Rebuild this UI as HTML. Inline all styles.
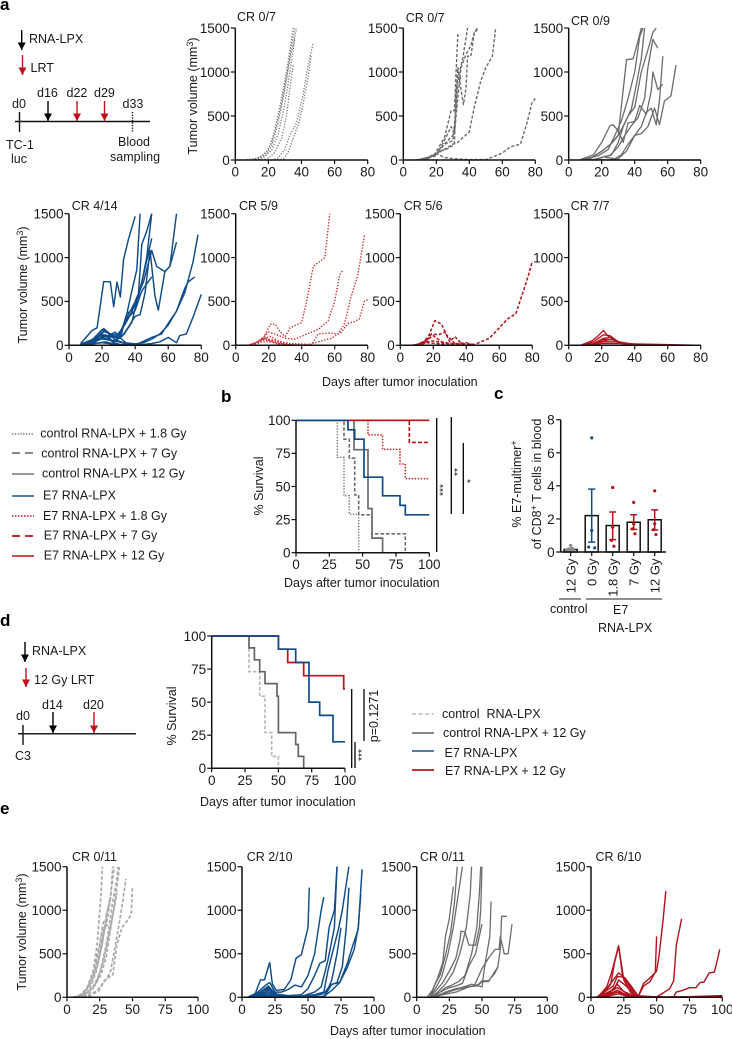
<!DOCTYPE html>
<html lang="en">
<head>
<meta charset="utf-8">
<title>Tumor response panels</title>
<style>
html,body{margin:0;padding:0;background:#fff;}
svg{display:block;}
text{font-family:"Liberation Sans",sans-serif;font-size:12.5px;fill:#1a1a1a;}
.pl{font-weight:bold;font-size:17px;fill:#000;}
</style>
</head>
<body>
<svg id="fig" xmlns="http://www.w3.org/2000/svg" width="732" height="1039" viewBox="0 0 732 1039">
<defs>
<marker id="ab" markerWidth="8" markerHeight="8" refX="7.5" refY="4" orient="auto" markerUnits="userSpaceOnUse"><path d="M0,0L7.5,4L0,8Z" fill="#000"/></marker>
<marker id="ar" markerWidth="8" markerHeight="8" refX="7.5" refY="4" orient="auto" markerUnits="userSpaceOnUse"><path d="M0,0L7.5,4L0,8Z" fill="#c0101a"/></marker>
</defs>

<text class="pl" x="0" y="10">a</text>
<text class="pl" x="221" y="402">b</text>
<text class="pl" x="494" y="399">c</text>
<text class="pl" x="0" y="626">d</text>
<text class="pl" x="0" y="814">e</text>

<g>
<line x1="21.7" y1="30" x2="21.7" y2="50" stroke="#000" stroke-width="1.4" marker-end="url(#ab)"/>
<text x="29" y="43">RNA-LPX</text>
<line x1="22.5" y1="55" x2="22.5" y2="75" stroke="#c0101a" stroke-width="1.4" marker-end="url(#ar)"/>
<text x="30.5" y="72">LRT</text>
<line x1="15" y1="121.5" x2="150" y2="121.5" stroke="#111" stroke-width="1.4"/>
<line x1="19.5" y1="112" x2="19.5" y2="132" stroke="#111" stroke-width="1.4"/>
<text x="12" y="108">d0</text>
<text x="37" y="97">d16</text>
<line x1="48" y1="101" x2="48" y2="121" stroke="#000" stroke-width="1.4" marker-end="url(#ab)"/>
<text x="66.5" y="97">d22</text>
<line x1="77" y1="101" x2="77" y2="121" stroke="#c0101a" stroke-width="1.4" marker-end="url(#ar)"/>
<text x="94" y="97">d29</text>
<line x1="104.5" y1="101" x2="104.5" y2="121" stroke="#c0101a" stroke-width="1.4" marker-end="url(#ar)"/>
<text x="122.5" y="108">d33</text>
<line x1="132.5" y1="112" x2="132.5" y2="132" stroke="#111" stroke-width="1.4" stroke-dasharray="1.3 1.3"/>
<text x="6" y="149">TC-1</text>
<text x="11" y="163">luc</text>
<text x="118" y="146">Blood</text>
<text x="110" y="161">sampling</text>
</g>

<g>
<line x1="25" y1="642" x2="25" y2="662" stroke="#000" stroke-width="1.4" marker-end="url(#ab)"/>
<text x="32" y="655">RNA-LPX</text>
<line x1="26" y1="668" x2="26" y2="687" stroke="#c0101a" stroke-width="1.4" marker-end="url(#ar)"/>
<text x="34" y="684">12 Gy LRT</text>
<line x1="18" y1="733.7" x2="136" y2="733.7" stroke="#222" stroke-width="1.5"/>
<line x1="23" y1="725" x2="23" y2="745" stroke="#111" stroke-width="1.4"/>
<text x="16" y="720">d0</text>
<text x="42" y="709">d14</text>
<line x1="53" y1="712" x2="53" y2="733" stroke="#000" stroke-width="1.4" marker-end="url(#ab)"/>
<text x="83" y="709">d20</text>
<line x1="94" y1="712" x2="94" y2="733" stroke="#c0101a" stroke-width="1.4" marker-end="url(#ar)"/>
<text x="15" y="760">C3</text>
</g>

<g>
<text x="237" y="21">CR 0/7</text>
<text x="405.7" y="22">CR 0/7</text>
<text x="571" y="25">CR 0/9</text>
<text x="71.7" y="210">CR 4/14</text>
<text x="239" y="210">CR 5/9</text>
<text x="403.7" y="210">CR 5/6</text>
<text x="570.7" y="210">CR 7/7</text>
<text x="72" y="861">CR 0/11</text>
<text x="246.7" y="861">CR 2/10</text>
<text x="420" y="861">CR 0/11</text>
<text x="595.5" y="861">CR 6/10</text>
</g>

<text transform="translate(197,96) rotate(-90)" text-anchor="middle">Tumor volume (mm<tspan dy="-4" style="font-size:9px">3</tspan><tspan dy="4">)</tspan></text>
<text transform="translate(27,285) rotate(-90)" text-anchor="middle">Tumor volume (mm<tspan dy="-4" style="font-size:9px">3</tspan><tspan dy="4">)</tspan></text>
<text x="322" y="386">Days after tumor inoculation</text>
<text transform="translate(26,932) rotate(-90)" text-anchor="middle">Tumor volume (mm<tspan dy="-4" style="font-size:9px">3</tspan><tspan dy="4">)</tspan></text>
<text x="330" y="1035">Days after tumor inoculation</text>

<g>
<line x1="12" y1="434" x2="34" y2="434" stroke="#777" stroke-width="1.5" stroke-dasharray="1.3 1.5"/>
<text x="40.3" y="437.5">control RNA-LPX + 1.8 Gy</text>
<line x1="12" y1="453" x2="34" y2="453" stroke="#777" stroke-width="1.8" stroke-dasharray="8 5"/>
<text x="41.3" y="457.5">control RNA-LPX + 7 Gy</text>
<line x1="12" y1="474" x2="34" y2="474" stroke="#777" stroke-width="1.5"/>
<text x="42" y="477.5">control RNA-LPX + 12 Gy</text>
<line x1="12" y1="496" x2="34" y2="496" stroke="#1c4f87" stroke-width="1.5"/>
<text x="43" y="499.5">E7 RNA-LPX</text>
<line x1="12" y1="516" x2="34" y2="516" stroke="#d8141e" stroke-width="1.5" stroke-dasharray="1.5 1.5"/>
<text x="43" y="520">E7 RNA-LPX + 1.8 Gy</text>
<line x1="12" y1="536" x2="34" y2="536" stroke="#b90f18" stroke-width="1.8" stroke-dasharray="8 5"/>
<text x="43.7" y="539.5">E7 RNA-LPX + 7 Gy</text>
<line x1="12" y1="556" x2="34" y2="556" stroke="#c0101a" stroke-width="1.5"/>
<text x="43.7" y="559.5">E7 RNA-LPX + 12 Gy</text>
</g>

<g>
<line x1="412" y1="714" x2="434" y2="714" stroke="#bdbdbd" stroke-width="1.5" stroke-dasharray="4 2.5"/>
<text x="442" y="718" xml:space="preserve">control  RNA-LPX</text>
<line x1="412" y1="733" x2="434" y2="733" stroke="#777" stroke-width="1.8"/>
<text x="443" y="737">control RNA-LPX + 12 Gy</text>
<line x1="412" y1="751" x2="434" y2="751" stroke="#1c4f87" stroke-width="1.5"/>
<text x="444.5" y="757">E7 RNA-LPX</text>
<line x1="412" y1="770" x2="434" y2="770" stroke="#c0101a" stroke-width="1.8"/>
<text x="445" y="775">E7 RNA-LPX + 12 Gy</text>
</g>

<g>
<text transform="translate(263,486) rotate(-90)" text-anchor="middle">% Survival</text>
<text x="284" y="587">Days after tumor inoculation</text>
<line x1="436.7" y1="418" x2="436.7" y2="552" stroke="#000" stroke-width="1.3"/>
<line x1="451.3" y1="417" x2="451.3" y2="514" stroke="#000" stroke-width="1.3"/>
<line x1="463.3" y1="443" x2="463.3" y2="514" stroke="#000" stroke-width="1.3"/>
<text transform="translate(446.5,490) rotate(-90)" text-anchor="middle" style="font-size:10px">***</text>
<text transform="translate(461,472) rotate(-90)" text-anchor="middle" style="font-size:10px">**</text>
<text transform="translate(474,481) rotate(-90)" text-anchor="middle" style="font-size:10px">*</text>
</g>

<g>
<text transform="translate(176,716) rotate(-90)" text-anchor="middle">% Survival</text>
<text x="200" y="806">Days after tumor inoculation</text>
<line x1="351.7" y1="689" x2="351.7" y2="768" stroke="#000" stroke-width="1.3"/>
<line x1="355" y1="742" x2="355" y2="768" stroke="#000" stroke-width="1.3"/>
<line x1="364" y1="689" x2="364" y2="741" stroke="#000" stroke-width="1.3"/>
<text transform="translate(365,755) rotate(-90)" text-anchor="middle" style="font-size:10px">***</text>
<text transform="translate(378,716) rotate(-90)" text-anchor="middle">p=0.1271</text>
</g>

<g>
<text transform="translate(521,484) rotate(-90)" text-anchor="middle">% E7-multimer<tspan dy="-4" style="font-size:9px">+</tspan></text>
<text transform="translate(541,484) rotate(-90)" text-anchor="middle">of CD8<tspan dy="-4" style="font-size:9px">+</tspan><tspan dy="4"> T cells in blood</tspan></text>
<line x1="559" y1="599" x2="581" y2="599" stroke="#222" stroke-width="1"/>
<line x1="586" y1="599" x2="662" y2="599" stroke="#222" stroke-width="1"/>
<text x="550" y="613">control</text>
<text x="613" y="614">E7</text>
<text x="598" y="632">RNA-LPX</text>
</g>

<g id="plots"></g>
</svg>

<script>
// ---------- tick labels ----------
const volumeTicks = [0, 500, 1000, 1500];
const dayTicks80 = [0, 20, 40, 60, 80];
const dayTicks100 = [0, 25, 50, 75, 100];
const survivalTicks = [0, 25, 50, 75, 100];
const barTicks = [0, 2, 4, 6, 8];

// ---------- tumor growth: each curve is [day, volume, day, volume, ...] ----------
const a1Curves = [
[7,5,12,15,18,60,22,200,26,520,30,900,33,1250,35,1500],
[10,5,15,30,20,120,24,330,28,650,31,950,34,1300,36,1500],
[14,5,18,40,22,160,26,430,30,800,33,1150,36,1400,37,1500],
[12,5,17,30,22,110,26,300,30,640,33,1000,36,1380],
[16,0,20,20,24,90,28,250,31,500,33,820,35,1080],
[22,0,26,25,30,120,33,280,37,420,41,750,44,1080,47,1320],
[24,0,29,10,32,90,35,250,38,400,41,640,44,950,46,1200]];
const a2Curves = [
[7,0,14,15,19,60,25,260,29,560,31,560,32,1000,33,1420,35,1420],
[10,5,16,40,20,80,26,200,31,300,33,1050,35,800,36.5,630,38,820,39,1180,41,1180,43,1450,45,1480],
[12,10,18,40,22,100,27,130,31,180,32,800,34,1000,36,1150,39,1500],
[14,5,20,70,25,120,30,180,33,200,40,320,43,600,47,900,50,1050,54,1180,56,1500],
[15,20,20,50,26,260,29,380,31,300,33,700,35,1050,38,1200,41,1300,43,1450,45,1500],
[8,0,15,30,20,70,25,30,30,15,40,5,50,5,55,40,60,80,65,150,71,180,75,420,78,650,80,700],
[16,40,20,70,25,180,30,220,32,600,33,900,36,950]];
const a3Curves = [
[7,5,15,60,20,200,25,390,27,400,30,330,33,200,36,420,40,440,43,620,47,520,50,780,51,1000,54,800,57,860],
[8,5,14,30,20,100,25,170,30,280,35,1140,39,1150,42,1350,44,1500],
[10,10,18,50,24,120,28,280,32,450,36,700,40,1000,43,1400,45,1500],
[12,5,20,100,26,190,30,280,34,420,38,580,41,860,44,1150,46,1500],
[14,0,20,30,25,50,30,150,34,280,38,390,42,480,46,700,48,1050,51,1370,54,1270],
[22,30,28,15,32,60,36,180,40,280,44,380,47,540,50,590,53,400,55,680,57,1180],
[24,0,30,15,35,100,40,280,44,300,48,380,52,590,55,400,58,670,62,730,65,1080],
[20,30,26,60,30,200,33,380,36,500,40,600,44,1000,48,1250,51,1450,53,1500],
[8,0,18,10,24,0,80,0]];
const a4Curves = [
[7,20,14,170,17,200,21,725,25,725,27,440,29,720,31,550,33,980,36,1210,40,1470],
[7,10,14,60,20,180,24,140,28,100,32,180,35,360,38,620,41,860,43,1500],
[7,15,15,70,21,190,26,110,31,80,35,360,38,400,42,590,44,1150,47,1300,50,1500],
[7,5,15,50,21,160,26,120,30,130,34,240,38,380,42,560,45,800,48,1050,50,1220],
[8,10,16,40,22,120,27,40,32,100,36,210,40,330,43,350,46,600,49,1080,52,560,54,400,56,620,58,840,61,900,65,1500],
[8,5,15,40,21,100,28,90,33,120,38,260,41,500,44,720,47,1000,50,1500],
[7,5,15,40,21,80,28,50,35,300,40,400,44,620,47,700,50,780],
[7,5,20,120,30,90,36,350,40,500,45,720,50,1080,53,900,58,840,61,900,65,1175],
[7,5,18,80,24,60,30,40,35,15,40,10,45,30,50,70,55,130,60,230,65,390,70,600,75,950,78,1260],
[7,0,20,30,28,10,35,5,42,20,50,90,56,130,60,250,65,390,70,650,72,720,76,780],
[8,0,22,40,30,5,40,0,50,20,55,40,60,90,65,30,67,110,71,130,75,320,80,580],
[7,0,15,50,22,170,28,60,33,30,38,20,42,10,46,0,80,0],
[7,5,15,30,21,120,27,30,32,5,40,0],
[7,0,14,30,21,90,28,150,30,100,35,20,40,5,80,0]];
const a5Curves = [
[7,0,12,30,17,90,21,240,24,240,27,150,30,100,33,200,40,260,43,500,47,900,54,1000,57,1500],
[8,0,14,40,20,150,25,120,30,80,36,70,42,120,50,180,56,280,60,500,63,800,65,860],
[9,0,15,60,21,100,26,50,32,20,40,15,46,10,50,130,56,140,62,130,66,250,70,560,74,800,78,1250],
[10,0,16,70,21,70,28,30,35,10,44,5,50,40,58,80,64,150,68,250,72,270,75,300,78,500,80,520],
[10,0,17,60,22,50,30,10,40,5,50,0,80,0],
[8,0,16,40,22,40,30,0,80,0],
[12,0,18,80,24,20,36,0,80,0]];
const a6Curves = [
[7,0,13,20,17,100,21,280,25,240,28,120,33,20,40,5,45,0,80,0],
[8,0,15,30,19,130,23,120,27,150,30,40,33,100,37,20,45,10,54,80,60,200,65,300,70,360,75,640,78,820,80,960],
[9,0,16,60,20,110,25,40,30,20,36,20,40,30,45,0],
[10,0,16,40,20,50,26,30,32,10,40,0],
[10,0,16,30,22,20,30,5,40,0,80,0],
[7,0,30,0,80,0]];
const a7Curves = [
[7,0,14,50,18,110,21,170,24,100,28,60,32,20,40,10,50,5,80,0],
[8,0,15,40,21,120,25,110,30,40,40,10,48,10],
[7,0,15,20,21,80,26,90,30,40,38,15,45,5],
[8,0,16,25,21,70,27,60,33,20,40,5],
[9,0,16,20,21,50,26,70,32,25,42,10],
[9,0,21,40,28,40,35,10,45,0],
[7,0,21,20,30,20,80,0]];
const e1Curves = [
[5,0,10,30,15,100,20,300,23,600,25,1000,26,1200,27,1500],
[8,0,13,40,18,160,23,350,27,620,30,950,33,1100,35,1500],
[8,10,14,60,19,220,24,420,28,750,31,900,34,1250,36,1500],
[10,0,15,50,20,120,25,280,30,600,35,1100,38,1350,39,1500],
[10,0,16,60,21,130,26,260,30,470,34,850,37,1150,40,1500],
[12,0,18,30,23,80,28,170,33,280,37,600,41,950,45,1360],
[12,0,18,20,24,70,29,200,35,260,38,600,42,800,46,880,49,950,50,1280],
[12,5,17,80,22,280,26,550,29,800,31,1000,33,1150],
[9,0,15,90,20,260,24,500,27,760,31,840],
[10,5,16,120,21,350,25,620,28,880],
[13,0,18,60,23,190,28,430,32,720,36,1020,38,1200]];
const e2Curves = [
[4,0,10,40,14,200,17,200,21,400,23,150,26,80,32,90,37,200,41,450,45,490,50,800,51,1260],
[5,0,12,60,18,140,21,170,25,60,30,60,35,90,40,140,45,120,50,250,55,500,60,1000,62,1150],
[5,0,12,40,20,130,25,40,35,20,45,30,50,100,55,250,59,390,63,420,66,800,70,1000,72,1500],
[6,0,14,40,20,110,25,20,35,0,45,10,55,60,60,120,65,420,70,800,72,1500],
[6,0,13,50,20,90,28,20,40,5,55,30,62,60,65,300,70,600,73,780,76,1000,81,1500],
[6,0,15,40,21,80,30,5,50,10,62,40,67,140,72,170,76,350,79,800,81,1260],
[7,0,15,20,21,60,30,0,60,0,63,20,68,200,72,500,75,800],
[7,0,14,30,20,50,28,0,62,0,68,150,74,170,80,400,84,600,88,780,91,1470],
[8,0,20,30,27,0,62,10,68,80,74,170,80,350,85,550,88,800,90,1180],
[5,0,21,20,30,0,100,0]];
const e3Curves = [
[8,0,12,80,16,220,20,400,22,700,25,900,28,1270],
[10,0,14,150,18,260,22,480,26,750,29,1100,31,1500],
[10,0,15,120,19,230,24,500,28,800,33,1300,35,1500],
[10,0,15,80,20,170,25,300,30,450,33,650,34,760,37,750,40,600,45,600,48,800,49,1000,50,1500],
[11,0,16,60,22,150,28,290,33,500,38,800,41,1180,42,1500],
[11,0,17,50,22,110,27,140,32,180,37,250,42,500,46,800,48,1200,49,1500],
[12,0,18,60,25,110,30,130,35,160,40,360,45,500,50,840],
[12,0,18,30,24,60,30,90,36,120,42,150,50,120,52,350,56,700,57,1100],
[12,0,20,30,30,60,40,120,48,150,50,180,55,180,60,300,62,340,64,550,65,930,69,930],
[11,0,20,40,28,80,36,110,44,130,50,330,55,450,60,550,63,550,64,700,67,500,70,500,73,840],
[13,0,22,60,30,100,38,120,46,130,50,190,55,190,60,280,62,350]];
const e4Curves = [
[4,0,10,60,15,150,18,400,21,590,24,250,30,100,36,10,40,160,44,210,50,300,52,500,55,900,57,1220],
[5,0,12,120,16,300,21,590,25,200,30,60,35,0],
[5,0,12,100,17,200,21,280,26,220,32,100,36,10,40,130,45,180,49,290,50,700],
[6,0,12,80,17,130,20,240,25,230,30,120,36,20],
[6,0,13,60,18,100,21,200,26,140,34,20,50,5,55,50,60,100,63,190,65,600,69,900],
[7,0,14,50,20,150,24,80,30,10,45,5,60,0,63,5,65,60,70,80,75,110,80,110,83,170,86,175,90,280,94,290,97,480,98,550],
[7,0,20,110,26,60,35,5,60,5,100,10],
[8,0,20,80,28,20,40,5,100,0],
[8,0,20,60,30,10,60,0,100,20],
[8,0,21,40,30,5,100,5]];

// ---------- survival: each array is [drop day, survival after drop, ...] ----------
const bControl18 = [31,72,36,43,40,29,47,0];
const bControl7 = [36,85.7,40,71.4,44,43.6,47,28.6,57,14.3,82,0];
const bControl12 = [43.5,77.8,54,33.3,57,11,65,0];
const bE7 = [39,92.8,44,85.7,51,57,65,43,78,35.7,82,28.6];
const bE718 = [54,89,65,78,78,67,82,56];
const bE77 = [85,83.3];
const bE712 = [];
const dControl = [28,73,36,54.5,40,27,45,9,50,0];
const dControl12 = [28,91,32,82,36,73,40,64,49,54.5,50,27,63,18,65,9,69,0];
const dE7 = [50,90,63,80,73,50,81,40,91,20];
const dE712 = [50,90,57,80,69,70,99,60];

// ---------- bar chart values ----------
const barCategories = ["12 Gy", "0 Gy", "1.8 Gy", "7 Gy", "12 Gy"];
const barMeans = [0.15, 2.2, 1.6, 1.8, 1.95];
const barErrLow = [0.08, 0.6, 0.75, 1.37, 1.33];
const barErrHigh = [0.22, 3.8, 2.42, 2.25, 2.55];
const barPoints = [
[0.4,0.22,0.18,0.15,0.12,0.1,0.08,0.05],
[6.9,1.3,0.3,0.25],
[3.9,1.5,0.7,0.35],
[3.0,1.7,1.4,1.1],
[3.7,1.7,1.35,1.05]];

const NS = "http://www.w3.org/2000/svg";
const root = document.getElementById("plots");
function mk(tag, attrs, parent) {
  const e = document.createElementNS(NS, tag);
  for (const k in attrs) e.setAttribute(k, attrs[k]);
  (parent || root).appendChild(e);
  return e;
}
function linear(d0, d1, r0, r1) { return v => r0 + (v - d0) / (d1 - d0) * (r1 - r0); }

function drawAxes(name, sx, sy, xTicks, yTicks, xExtentEnd, parent, fs) {
  const x0 = sx(xTicks[0]), yb = sy(yTicks[0]), yt = sy(yTicks[yTicks.length - 1]);
  const xEnd = xExtentEnd;
  const xa = mk("path", {d:`M${x0},${yb}H${xEnd}`, stroke:"#111", "stroke-width":1.5, fill:"none"}, parent);
  
  
  const ya = mk("path", {d:`M${x0},${yb}V${yt}`, stroke:"#111", "stroke-width":1.5, fill:"none"}, parent);
  
  
  xTicks.forEach(t => {
    const px = sx(t);
    const m = mk("path", {d:`M${px},${yb}v4`, stroke:"#111", "stroke-width":1.2}, parent);
    
    
    const l = mk("text", {x:px, y:yb + 16.5, "text-anchor":"middle", style:`font-size:${fs}px`}, parent);
    l.textContent = t;
    
    
  });
  yTicks.forEach(t => {
    const py = sy(t);
    const m = mk("path", {d:`M${x0},${py}h-4.5`, stroke:"#111", "stroke-width":1.2}, parent);
    
    
    const l = mk("text", {x:x0 - 5.5, y:py + 4.8, "text-anchor":"end", style:`font-size:${fs}px`}, parent);
    l.textContent = t;
    
    
  });
}

function tumorPanel(name, curves, left, right, top, base, xTicks, color, dash, width) {
  const g = mk("g", {});
  
  
  const sx = linear(0, xTicks[xTicks.length - 1], left, right);
  const sy = linear(0, 1500, base, top);
  curves.forEach((c, i) => {
    let d = "";
    for (let k = 0; k < c.length; k += 2) d += (k ? "L" : "M") + sx(c[k]).toFixed(1) + "," + sy(c[k + 1]).toFixed(1);
    const p = mk("path", {d, fill:"none", stroke:color, "stroke-width":width, "stroke-linejoin":"round", "stroke-dasharray":dash}, g);
    
    
  });
  drawAxes(name, sx, sy, xTicks, volumeTicks, right, g, 13.5);
}

function survival(name, g, sx, sy, events, endDay, color, dash, width) {
  let d = `M${sx(0)},${sy(100)}`;
  for (let k = 0; k < events.length; k += 2) {
    d += `H${sx(events[k]).toFixed(1)}V${sy(events[k + 1]).toFixed(1)}`;
  }
  const last = events.length ? events[events.length - 1] : 100;
  if (last > 0) d += `H${sx(endDay).toFixed(1)}`;
  const p = mk("path", {d, fill:"none", stroke:color, "stroke-width":width, "stroke-dasharray":dash}, g);
  
  
}

// panel a
tumorPanel("a1", a1Curves, 235.3, 367.7, 28, 160, dayTicks80, "#777", "1.2 1.6", 1.3);
tumorPanel("a2", a2Curves, 403.3, 535.3, 28, 160, dayTicks80, "#6c6c6c", "3.2 1.8", 1.4);
tumorPanel("a3", a3Curves, 568.7, 700.7, 28, 160, dayTicks80, "#6c6c6c", "none", 1.3);
tumorPanel("a4", a4Curves, 69, 201.3, 213.7, 345.3, dayTicks80, "#0f4c8a", "none", 1.45);
tumorPanel("a5", a5Curves, 235.7, 367.7, 213.7, 345.3, dayTicks80, "#d2232a", "1.3 1.7", 1.4);
tumorPanel("a6", a6Curves, 400.3, 532.3, 213.7, 345.3, dayTicks80, "#b3121d", "3.2 1.8", 1.5);
tumorPanel("a7", a7Curves, 568.7, 700.7, 213.7, 345.3, dayTicks80, "#b3121d", "none", 1.3);

// panel e
tumorPanel("e1", e1Curves, 67, 198, 866.7, 997.3, dayTicks100, "#aaa", "3.5 2", 1.7);
tumorPanel("e2", e2Curves, 242, 374, 866.7, 997.3, dayTicks100, "#0f4c8a", "none", 1.45);
tumorPanel("e3", e3Curves, 416.7, 547.3, 866.7, 997.3, dayTicks100, "#6c6c6c", "none", 1.3);
tumorPanel("e4", e4Curves, 591, 722.3, 866.7, 997.3, dayTicks100, "#b3121d", "none", 1.4);

// panel b
(function () {
  const g = mk("g", {});
  
  
  const sx = linear(0, 100, 296, 429.3);
  const sy = linear(0, 100, 552.7, 420.3);
  survival("b-curve-control-1-8", g, sx, sy, bControl18, 47, "#777", "1.3 1.6", 1.5);
  survival("b-curve-control-7", g, sx, sy, bControl7, 82, "#6c6c6c", "3.5 2", 1.6);
  survival("b-curve-control-12", g, sx, sy, bControl12, 65, "#6c6c6c", "none", 1.7);
  survival("b-curve-e7-1-8", g, sx, sy, bE718, 100, "#d8141e", "1.4 1.6", 1.5);
  survival("b-curve-e7-7", g, sx, sy, bE77, 100, "#b90f18", "4 2", 1.6);
  survival("b-curve-e7-12", g, sx, sy, bE712, 100, "#c0101a", "none", 1.7);
  survival("b-curve-e7", g, sx, sy, bE7, 100, "#0f4c8a", "none", 1.7);
  drawAxes("b", sx, sy, dayTicks100, survivalTicks, 429.3, g, 13.5);
})();

// panel d
(function () {
  const g = mk("g", {});
  
  
  const sx = linear(0, 100, 211.7, 345);
  const sy = linear(0, 100, 768.3, 636);
  survival("d-curve-control", g, sx, sy, dControl, 50, "#b5b5b5", "3.5 2", 1.6);
  survival("d-curve-control-12", g, sx, sy, dControl12, 69, "#666", "none", 1.7);
  survival("d-curve-e7-12", g, sx, sy, dE712, 100, "#c0101a", "none", 1.7);
  survival("d-curve-e7", g, sx, sy, dE7, 100, "#0f4c8a", "none", 1.7);
  drawAxes("d", sx, sy, dayTicks100, survivalTicks, 345, g, 13.5);
})();

// panel c
(function () {
  const g = mk("g", {});
  
  
  const axisX = 560.7, axisEnd = 666, step = 21;
  const sy = linear(0, 8, 552, 419.7);
  const cx = i => 570.7 + i * step;
  const colors = ["#888", "#0f4c8a", "#b3121d", "#b3121d", "#b3121d"];
  const offsets = [0, 0, -3, 3, 0, 3, -3, 2];
  barMeans.forEach((v, i) => {
    const bar = mk("rect", {x:cx(i) - 6.5, y:sy(v), width:13, height:sy(0) - sy(v), fill:"#fff", stroke:"#111", "stroke-width":1.5}, g);
    
    
    const err = mk("path", {d:`M${cx(i)},${sy(barErrLow[i])}V${sy(barErrHigh[i])}M${cx(i)-3.5},${sy(barErrLow[i])}h7M${cx(i)-3.5},${sy(barErrHigh[i])}h7`, stroke:colors[i], "stroke-width":1.5, fill:"none"}, g);
    
    
    barPoints[i].forEach((pv, j) => {
      const dot = mk("circle", {cx:cx(i) + (i === 0 ? (j % 2 ? 1 : -1) * (j % 5) : offsets[j] * (i === 1 ? 1 : 0.4)), cy:sy(pv), r:1.6, fill:colors[i]}, g);
      
      
    });
    const tk = mk("path", {d:`M${cx(i)},552v4`, stroke:"#111", "stroke-width":1.2}, g);
    
    
    const lb = mk("text", {transform:`translate(${cx(i) + 4.8},558.5) rotate(-90)`, "text-anchor":"end", style:"font-size:13px"}, g);
    lb.textContent = barCategories[i];
    
    
  });
  const xa = mk("path", {d:`M${axisX},552H${axisEnd}`, stroke:"#111", "stroke-width":1.5, fill:"none"}, g);
  
  
  const ya = mk("path", {d:`M${axisX},552V419.7`, stroke:"#111", "stroke-width":1.5, fill:"none"}, g);
  
  
  barTicks.forEach(t => {
    const m = mk("path", {d:`M${axisX},${sy(t)}h-4.5`, stroke:"#111", "stroke-width":1.2}, g);
    
    
    const l = mk("text", {x:axisX - 6, y:sy(t) + 5, "text-anchor":"end", style:"font-size:13.5px"}, g);
    l.textContent = t;
    
    
  });
})();
</script>
</body>
</html>
